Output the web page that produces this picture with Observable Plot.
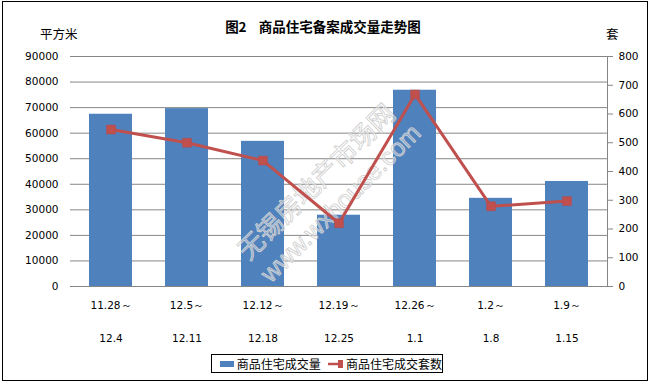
<!DOCTYPE html>
<html>
<head>
<meta charset="utf-8">
<script src="https://cdn.jsdelivr.net/npm/d3@7"></script>
<script src="https://cdn.jsdelivr.net/npm/@observablehq/plot@0.6"></script>
<style>
  html, body { margin: 0; padding: 0; background: #fff; }
  #wrap { position: relative; width: 651px; height: 384px; overflow: hidden; background: #fff; }
  #wrap svg { position: absolute; left: 0; top: 0; }
  .ov { position: absolute; white-space: pre; line-height: 1; color: #000; }
  #border { position: absolute; left: 2px; top: 1px; width: 644px; height: 378px; border: 1.5px solid #000; pointer-events: none; }
  #title { left: 0; width: 646px; top: 16px; text-align: center; font: bold 13.5px "Noto Sans CJK SC", sans-serif; }
  #unitL { left: 40px; top: 24px; font: 12.5px "Noto Sans CJK SC", sans-serif; }
  #unitR { left: 606px; top: 24px; font: 12.5px "Noto Sans CJK SC", sans-serif; }
  #legend { position: absolute; left: 211px; top: 354px; width: 232px; height: 19px; border: 1px solid #000; box-sizing: border-box;
            font: 12px "Noto Sans CJK SC", sans-serif; display: flex; align-items: center; white-space: nowrap; }
  .sw { display: inline-block; }
</style>
</head>
<body>
<div id="wrap"></div>
<script>
// ---- data ----
const labelsTop = ["11.28～", "12.5～", "12.12～", "12.19～", "12.26～", "1.2～", "1.9～"];
const labelsBottom = ["12.4", "12.11", "12.18", "12.25", "1.1", "1.8", "1.15"];
const area = [67400, 69600, 56800, 27900, 76800, 34500, 41100];   // 商品住宅成交量 (平方米)
const units = [546, 500, 438, 220, 668, 279, 297];                // 商品住宅成交套数 (套)
const leftTicks = [0, 10000, 20000, 30000, 40000, 50000, 60000, 70000, 80000, 90000];
const rightTicks = [0, 100, 200, 300, 400, 500, 600, 700, 800];
const seriesNames = ["商品住宅成交量", "商品住宅成交套数"];
const titleText = "图2    商品住宅备案成交量走势图";
const unitLeft = "平方米";
const unitRight = "套";
const watermark1 = "无锡房地产市场网";
const watermark2 = "www.wxhouse.com";

const leftMax = 90000, rightMax = 800;
const k = leftMax / rightMax; // maps right-axis values onto the left scale
const idx = d3.range(area.length);

const plot = Plot.plot({
  width: 651,
  height: 384,
  marginTop: 56,
  marginBottom: 98,
  marginLeft: 70,
  marginRight: 44,
  style: { fontFamily: "DejaVu Sans, sans-serif", fontSize: "10.5px", color: "#000", background: "transparent" },
  x: { domain: idx, paddingInner: 0.43, paddingOuter: 0.215, axis: null },
  y: { domain: [0, leftMax], axis: null },
  marks: [
    Plot.ruleY(leftTicks, { stroke: "#868686", strokeWidth: 1 }),
    Plot.axisY({ anchor: "left", ticks: leftTicks, tickSize: 0, tickPadding: 12, tickFormat: d => String(d) }),
    Plot.barY(idx, { x: i => i, y: i => area[i], fill: "#4F81BD" }),
    Plot.text([0], { frameAnchor: "middle", text: () => watermark1, rotate: -44.5, dx: -22, dy: 11,
      fontSize: 26, fontFamily: "Noto Sans CJK SC", fill: "white", fillOpacity: 0.35, stroke: "#c4c4c4", strokeWidth: 0.8 }),
    Plot.text([0], { frameAnchor: "middle", text: () => watermark2, rotate: -44.5, dx: 2, dy: 32,
      fontSize: 25, fontFamily: "Liberation Sans", fill: "white", fillOpacity: 0.35, stroke: "#c4c4c4", strokeWidth: 0.8 }),
    Plot.line(idx, { x: i => i, y: i => units[i] * k, stroke: "#C0504D", strokeWidth: 3 }),
    Plot.dot(idx, { x: i => i, y: i => units[i] * k, symbol: "square", r: 5, fill: "#C0504D", stroke: "#B8474A", strokeWidth: 0.5 }),
    Plot.frame({ anchor: "right", stroke: "#868686" }),
    Plot.axisY({ anchor: "right", ticks: rightTicks.map(v => v * k), tickFormat: v => String(Math.round(v / k)), tickSize: 5, tickPadding: 6 }),
    Plot.text(idx, { x: i => i, text: i => labelsTop[i], frameAnchor: "bottom", dy: 22, fill: "#000" }),
    Plot.text(idx, { x: i => i, text: i => labelsBottom[i], frameAnchor: "bottom", dy: 55, fill: "#000" })
  ]
});

d3.select(plot).selectAll('[aria-label="y-axis tick"]').attr("stroke", "#868686");

const wrap = document.getElementById("wrap");
wrap.appendChild(plot);

function ov(id, cls, text) {
  const d = document.createElement("div");
  d.id = id; d.className = cls; d.textContent = text;
  wrap.appendChild(d);
  return d;
}
ov("title", "ov", titleText);
ov("unitL", "ov", unitLeft);
ov("unitR", "ov", unitRight);

const lg = document.createElement("div");
lg.id = "legend";
lg.innerHTML =
  `<span class="sw" style="width:25px;height:6px;background:#4F81BD;margin-left:8px;margin-right:3px"></span>` +
  `<span>${seriesNames[0]}</span>` +
  `<svg width="28" height="10" style="position:static;margin-left:7px;margin-right:3px"><line x1="0" y1="5" x2="28" y2="5" stroke="#C0504D" stroke-width="2.5"/><rect x="10" y="1" width="8" height="8" fill="#C0504D"/></svg>` +
  `<span>${seriesNames[1]}</span>`;
wrap.appendChild(lg);

const b = document.createElement("div");
b.id = "border";
wrap.appendChild(b);
</script>
</body>
</html>
